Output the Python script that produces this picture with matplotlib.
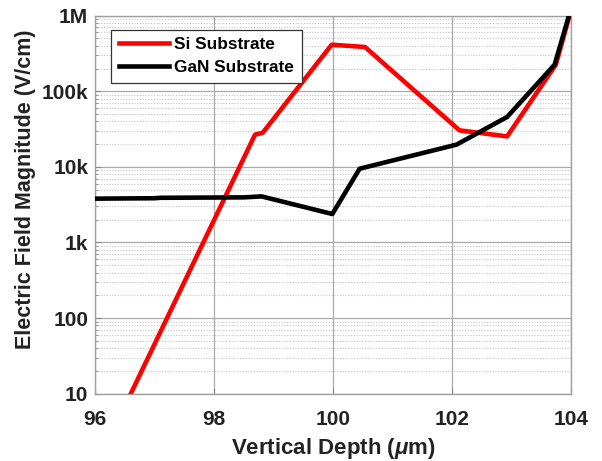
import matplotlib.pyplot as plt
import numpy as np

plt.rcParams['font.family'] = ['Liberation Sans', 'DejaVu Sans']
plt.rcParams['font.weight'] = 'bold'
plt.rcParams['mathtext.fontset'] = 'custom'
plt.rcParams['mathtext.it'] = 'Liberation Sans:italic:bold'
plt.rcParams['mathtext.rm'] = 'Liberation Sans:bold'

# electric field profiles vs depth (um, V/cm)
si_depth = [96.6, 98.69, 98.82, 99.98, 100.54, 102.13, 102.93, 103.75, 103.98]
si_field = [10, 26.7e3, 28.3e3, 413e3, 385e3, 30.4e3, 25.3e3, 225e3, 1.0e6]

gan_depth = [96.0, 97.0, 97.1, 98.5, 98.8, 99.99, 100.45, 102.08, 102.93, 103.73, 103.97]
gan_field = [3.8e3, 3.85e3, 3.9e3, 3.95e3, 4.07e3, 2.38e3, 9.46e3, 19.7e3, 45.7e3, 225e3, 1.0e6]

yticks = [10, 100, 1e3, 1e4, 1e5, 1e6]
ytick_labels = ['10', '100', '1k', '10k', '100k', '1M']
xticks = [96, 98, 100, 102, 104]

fig = plt.figure(figsize=(6.02, 4.61), dpi=100)
ax = fig.add_axes([0.158, 0.146, 0.790, 0.820])

ax.semilogy(si_depth, si_field, color='#ff0000', lw=3.3, label='Si Substrate', zorder=3)
ax.semilogy(gan_depth, gan_field, color='black', lw=3.3, label='GaN Substrate', zorder=4)

ax.set_xlim(96, 104)
ax.set_ylim(10, 1e6)
ax.set_xticks(xticks)
ax.set_xticklabels([str(t) for t in xticks])
ax.set_yticks(yticks)
ax.set_yticklabels(ytick_labels)

ax.grid(True, which='major', color='#aaaaaa', lw=0.9, ls='-')
ax.grid(True, which='minor', axis='y', color='#c4c4c4', lw=0.8, ls=(0, (1, 1.5)))
ax.set_axisbelow(True)

for sp in ax.spines.values():
    sp.set_color('#a0a0a0')
    sp.set_linewidth(1.0)

ax.tick_params(which='both', direction='in', colors='#888888', labelcolor='#222222',
               labelsize=15)
ax.tick_params(axis='x', pad=12)
ax.tick_params(axis='y', pad=5)
ax.tick_params(which='major', length=4)
ax.tick_params(which='minor', length=2)

ax.set_xlabel('Vertical Depth ($\\mathit{\\mu}$m)', fontsize=16, fontweight='bold', color='#222222', labelpad=5)
ax.set_ylabel('Electric Field Magnitude (V/cm)', fontsize=15.5, fontweight='bold', color='#222222')
ax.yaxis.set_label_coords(-0.125, 0.54)

leg = ax.legend(loc='upper left', bbox_to_anchor=(0.034, 0.963), borderaxespad=0, fontsize=12.4,
                frameon=True, fancybox=False, edgecolor='#333333', framealpha=1,
                handlelength=2.9, borderpad=0.45, labelspacing=0.45, handletextpad=0.3)
leg.get_frame().set_linewidth(0.9)

fig.savefig('out.png', dpi=100)
